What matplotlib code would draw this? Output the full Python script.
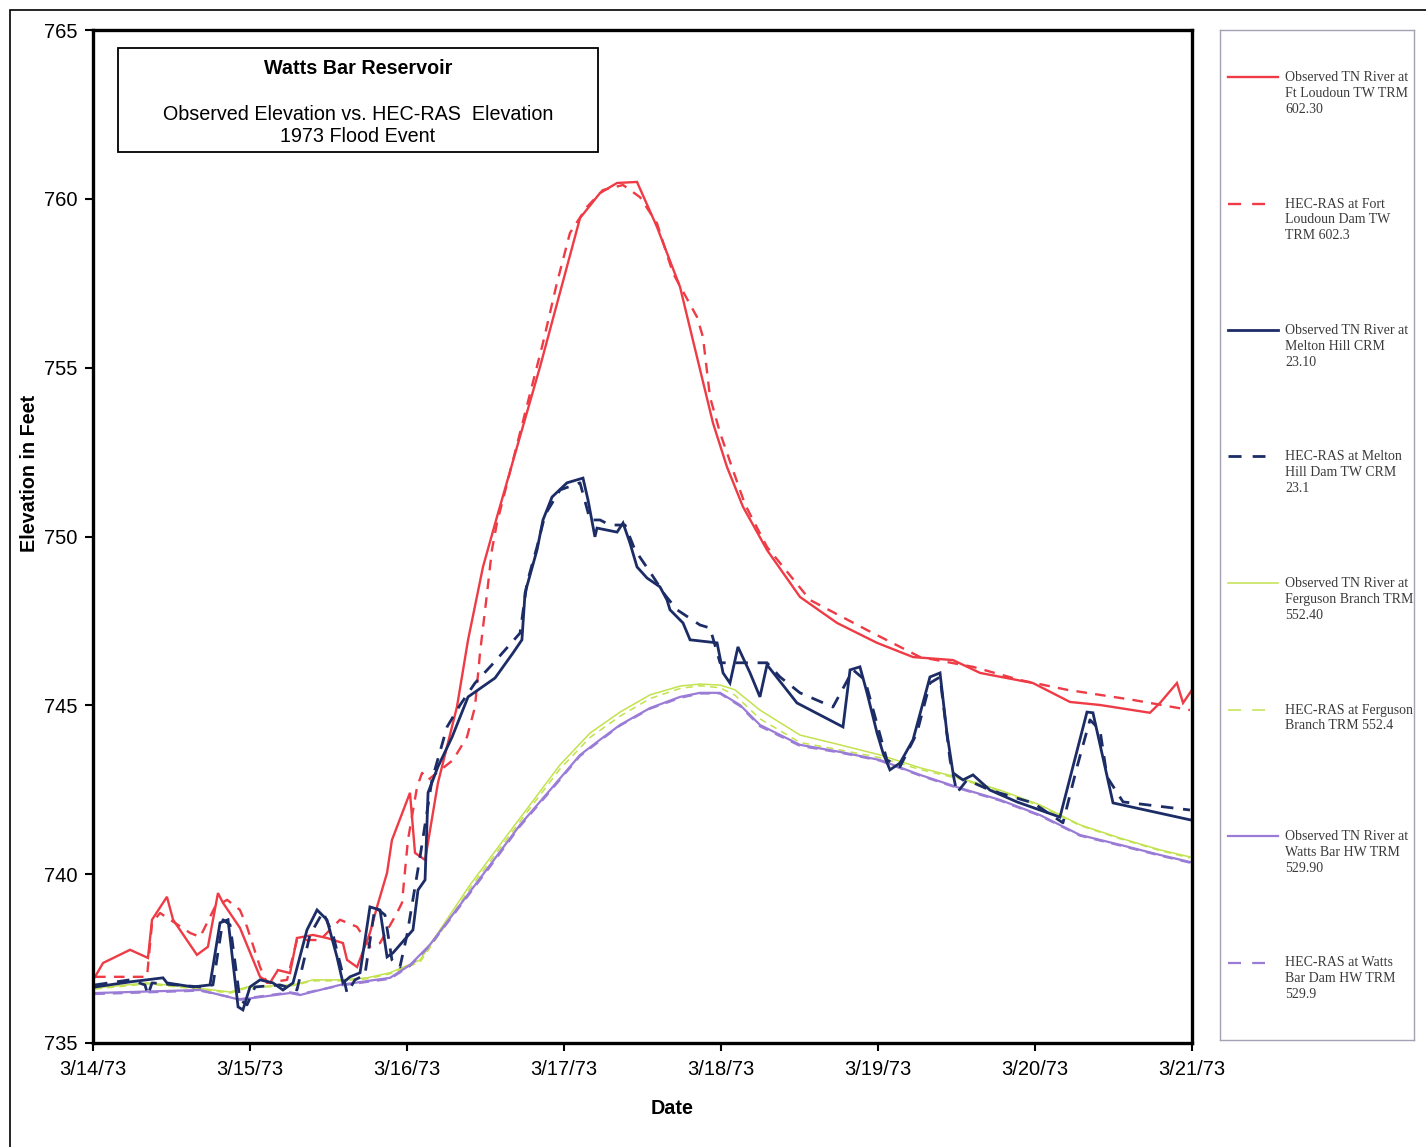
import matplotlib
matplotlib.use("Agg")
import matplotlib.pyplot as plt
from matplotlib.patches import Rectangle

# ---- data: elapsed days since 3/14/73 00:00 and water surface elevation (ft) ----
fl_obs_t = [0.013, 0.064, 0.236, 0.350, 0.376, 0.471, 0.510, 0.662, 0.732, 0.796, 0.828, 0.936,
            1.064, 1.127, 1.178, 1.255, 1.299, 1.401, 1.490, 1.592, 1.618, 1.682, 1.764, 1.809,
            1.873, 1.904, 2.019, 2.051, 2.115, 2.197, 2.318, 2.389, 2.484, 2.573, 2.847, 3.102,
            3.229, 3.338, 3.465, 3.592, 3.739, 3.949, 4.038, 4.140, 4.293, 4.503, 4.739, 4.994,
            5.223, 5.478, 5.650, 5.987, 6.223, 6.414, 6.732, 6.796, 6.904, 6.943, 7.000]
fl_obs_z = [736.96, 737.37, 737.76, 737.52, 738.65, 739.33, 738.65, 737.61, 737.85, 739.44, 739.15, 738.41,
            736.96, 736.78, 737.16, 737.07, 738.11, 738.20, 738.11, 737.96, 737.46, 737.25, 738.26, 739.03,
            740.04, 741.01, 742.41, 740.63, 740.42, 742.70, 744.95, 746.94, 749.10, 750.58, 755.02, 759.43,
            760.17, 760.47, 760.50, 759.17, 757.39, 753.36, 752.06, 750.88, 749.60, 748.21, 747.44, 746.85,
            746.43, 746.34, 745.96, 745.66, 745.10, 745.01, 744.78, 745.07, 745.66, 745.07, 745.46]

fl_ras_t = [0.013, 0.172, 0.344, 0.376, 0.427, 0.618, 0.682, 0.777, 0.854, 0.936, 0.981, 1.064,
            1.108, 1.236, 1.299, 1.446, 1.573, 1.682, 1.764, 1.828, 1.936, 1.968, 2.006, 2.064,
            2.096, 2.134, 2.293, 2.382, 2.433, 2.465, 2.510, 2.541, 2.573, 2.866, 2.955, 3.038,
            3.146, 3.248, 3.376, 3.484, 3.592, 3.694, 3.847, 3.885, 3.930, 3.994, 4.076, 4.153,
            4.293, 4.567, 4.930, 5.268, 5.605, 5.904, 6.204, 6.624, 6.987]
fl_ras_z = [736.96, 736.96, 736.96, 738.56, 738.85, 738.26, 738.14, 739.03, 739.24, 738.94, 738.44, 737.25,
            736.78, 736.87, 738.05, 738.05, 738.65, 738.44, 737.85, 737.96, 738.85, 739.15, 741.01, 742.58,
            743.00, 742.79, 743.38, 744.06, 744.95, 746.55, 748.33, 749.60, 750.40, 755.73, 757.51, 758.99,
            759.76, 760.26, 760.41, 760.05, 759.28, 757.80, 756.50, 755.91, 754.13, 753.07, 751.97, 750.95,
            749.69, 748.12, 747.23, 746.43, 746.14, 745.75, 745.46, 745.16, 744.86]

mh_obs_t = [0.013, 0.236, 0.446, 0.471, 0.637, 0.745, 0.809, 0.860, 0.924, 0.955, 1.000, 1.064,
            1.146, 1.210, 1.274, 1.363, 1.427, 1.490, 1.554, 1.592, 1.637, 1.701, 1.764, 1.828,
            1.873, 1.911, 2.038, 2.070, 2.115, 2.134, 2.197, 2.287, 2.389, 2.561, 2.675, 2.732,
            2.752, 2.828, 2.866, 2.924, 3.019, 3.121, 3.153, 3.197, 3.210, 3.338, 3.376, 3.420,
            3.465, 3.529, 3.611, 3.656, 3.675, 3.758, 3.803, 3.975, 4.013, 4.057, 4.108, 4.185,
            4.248, 4.293, 4.484, 4.777, 4.822, 4.885, 4.930, 4.994, 5.032, 5.076, 5.140, 5.223,
            5.331, 5.395, 5.439, 5.478, 5.541, 5.605, 5.713, 5.885, 6.159, 6.331, 6.369, 6.497, 6.987]
mh_obs_z = [736.66, 736.81, 736.93, 736.78, 736.66, 736.72, 738.56, 738.65, 736.07, 735.98, 736.66, 736.87,
            736.78, 736.57, 736.78, 738.35, 738.94, 738.65, 737.55, 736.78, 736.96, 737.08, 739.03, 738.94,
            737.55, 737.67, 738.35, 739.53, 739.83, 742.41, 743.18, 744.06, 745.25, 745.81, 746.55, 746.94,
            748.33, 749.60, 750.49, 751.17, 751.59, 751.73, 751.08, 749.99, 750.25, 750.13, 750.40, 749.81,
            749.10, 748.77, 748.51, 748.12, 747.83, 747.44, 746.94, 746.85, 745.96, 745.66, 746.73, 745.96,
            745.25, 746.20, 745.07, 744.36, 746.05, 746.14, 745.37, 744.18, 743.59, 743.09, 743.29, 743.98,
            745.84, 745.96, 744.18, 743.00, 742.79, 742.94, 742.49, 742.14, 741.69, 744.80, 744.78, 742.11, 741.61]

mh_ras_t = [0.013, 0.236, 0.331, 0.350, 0.376, 0.682, 0.764, 0.828, 0.873, 0.936, 0.981, 1.032,
            1.191, 1.299, 1.382, 1.465, 1.529, 1.592, 1.618, 1.669, 1.732, 1.796, 1.860, 1.904,
            1.955, 2.000, 2.083, 2.159, 2.255, 2.338, 2.433, 2.541, 2.720, 2.764, 2.828, 2.879,
            2.975, 3.102, 3.166, 3.229, 3.293, 3.389, 3.452, 3.548, 3.643, 3.720, 3.866, 3.930,
            3.994, 4.076, 4.293, 4.376, 4.503, 4.713, 4.841, 4.917, 5.057, 5.140, 5.248, 5.331,
            5.395, 5.459, 5.503, 5.567, 5.713, 5.987, 6.178, 6.268, 6.350, 6.414, 6.459, 6.561, 6.987]
mh_ras_z = [736.72, 736.87, 736.72, 736.42, 736.78, 736.66, 736.72, 738.65, 738.50, 736.28, 736.13, 736.66,
            736.72, 736.57, 738.20, 738.88, 738.20, 737.02, 736.48, 736.87, 737.02, 739.03, 738.79, 737.46,
            737.25, 738.20, 740.51, 742.79, 744.36, 745.01, 745.66, 746.20, 747.14, 748.62, 749.69, 750.64,
            751.38, 751.59, 750.49, 750.49, 750.34, 750.34, 749.60, 748.95, 748.27, 747.83, 747.38, 747.29,
            746.26, 746.26, 746.26, 745.84, 745.37, 744.95, 746.05, 745.75, 743.38, 743.18, 744.18, 745.66,
            745.84, 743.38, 742.41, 742.79, 742.49, 742.11, 741.52, 743.18, 744.57, 744.27, 742.88, 742.14, 741.90]

fb_t = [0.013, 0.344, 0.662, 0.873, 0.981, 1.274, 1.401, 1.573, 1.745, 1.892, 2.083, 2.210,
        2.401, 2.592, 2.783, 2.975, 3.166, 3.357, 3.548, 3.739, 3.866, 3.994, 4.089, 4.248,
        4.503, 4.758, 5.013, 5.268, 5.522, 5.777, 6.032, 6.287, 6.541, 6.796, 6.987]
fb_obs_z = [736.63, 736.78, 736.63, 736.51, 736.66, 736.72, 736.87, 736.87, 736.93, 737.08, 737.46, 738.35,
            739.68, 740.87, 742.05, 743.24, 744.18, 744.80, 745.31, 745.57, 745.63, 745.60, 745.46, 744.86,
            744.12, 743.83, 743.53, 743.15, 742.85, 742.49, 742.05, 741.46, 741.07, 740.72, 740.51]
fb_ras_z = [736.60, 736.75, 736.60, 736.48, 736.63, 736.70, 736.84, 736.84, 736.90, 737.05, 737.40, 738.25,
            739.58, 740.77, 741.95, 743.12, 744.05, 744.68, 745.20, 745.50, 745.58, 745.52, 745.30, 744.60,
            743.90, 743.68, 743.45, 743.10, 742.82, 742.45, 742.02, 741.44, 741.05, 740.70, 740.48]

wb_t = [0.013, 0.682, 0.936, 1.255, 1.318, 1.573, 1.892, 2.019, 2.146, 2.338, 2.529, 2.720,
        2.911, 3.102, 3.229, 3.357, 3.548, 3.739, 3.866, 3.994, 4.121, 4.248, 4.503, 4.758,
        5.013, 5.268, 5.522, 5.777, 6.032, 6.287, 6.541, 6.796, 6.987]
wb_obs_z = [736.48, 736.57, 736.28, 736.48, 736.42, 736.72, 736.93, 737.31, 737.91, 739.09, 740.27, 741.46,
            742.49, 743.53, 743.98, 744.42, 744.92, 745.25, 745.37, 745.37, 745.01, 744.42, 743.83, 743.62,
            743.38, 742.94, 742.55, 742.20, 741.75, 741.16, 740.87, 740.57, 740.36]
wb_ras_z = [736.45, 736.55, 736.30, 736.50, 736.45, 736.70, 736.90, 737.28, 737.88, 739.05, 740.22, 741.42,
            742.45, 743.50, 743.95, 744.40, 744.90, 745.22, 745.35, 745.35, 744.98, 744.38, 743.80, 743.60,
            743.36, 742.92, 742.53, 742.18, 741.73, 741.14, 740.85, 740.55, 740.34]

date_labels = ["3/14/73", "3/15/73", "3/16/73", "3/17/73", "3/18/73", "3/19/73", "3/20/73", "3/21/73"]
y_ticks = [735, 740, 745, 750, 755, 760, 765]

labels = [
    "Observed TN River at\nFt Loudoun TW TRM\n602.30",
    "HEC-RAS at Fort\nLoudoun Dam TW\nTRM 602.3",
    "Observed TN River at\nMelton Hill CRM\n23.10",
    "HEC-RAS at Melton\nHill Dam TW CRM\n23.1",
    "Observed TN River at\nFerguson Branch TRM\n552.40",
    "HEC-RAS at Ferguson\nBranch TRM 552.4",
    "Observed TN River at\nWatts Bar HW TRM\n529.90",
    "HEC-RAS at Watts\nBar Dam HW TRM\n529.9",
]

RED, NAVY, LIME, PURPLE = "#EE3B45", "#1C2C66", "#C2E24E", "#9A7BD6"
DASH = (4.5, 3.5)
series = [
    (fl_obs_t, fl_obs_z, RED, 1.7, None),
    (fl_ras_t, fl_ras_z, RED, 1.7, DASH),
    (mh_obs_t, mh_obs_z, NAVY, 2.0, None),
    (mh_ras_t, mh_ras_z, NAVY, 2.0, DASH),
    (fb_t, fb_obs_z, LIME, 1.1, None),
    (fb_t, fb_ras_z, LIME, 1.1, DASH),
    (wb_t, wb_obs_z, PURPLE, 1.6, None),
    (wb_t, wb_ras_z, PURPLE, 1.6, DASH),
]
draw_order = [4, 5, 6, 7, 0, 1, 2, 3]

plt.rcParams["font.family"] = ["Liberation Sans", "DejaVu Sans"]
W, H = 1426, 1147
fig = plt.figure(figsize=(W / 100, H / 100), dpi=100)
fig.patch.set_facecolor("white")

ax = fig.add_axes([93 / W, 1 - 1043 / H, 1099 / W, 1013 / H])
for i in draw_order:
    t, z, c, lw, dash = series[i]
    kw = dict(color=c, lw=lw, solid_joinstyle="miter")
    if dash is not None:
        kw.update(linestyle=(0, dash))
    ax.plot(t, z, **kw)

ax.set_xlim(0, 7)
ax.set_ylim(735, 765)
ax.set_xticks(range(len(date_labels)))
ax.set_xticklabels(date_labels)
ax.set_yticks(y_ticks)
ax.tick_params(axis="both", direction="out", length=6, width=1.5, labelsize=14.5, colors="black")
ax.tick_params(axis="x", pad=6)
ax.tick_params(axis="y", pad=5)
for s in ax.spines.values():
    s.set_linewidth(2.4)
    s.set_color("black")

fig.text(30 / W, 1 - 473 / H, "Elevation in Feet", rotation=90, ha="center", va="center",
         fontsize=14.2, fontweight="bold")
fig.text(672 / W, 1 - 1108 / H, "Date", ha="center", va="center", fontsize=14.2, fontweight="bold")

# title box inside the plot area
fig.add_artist(Rectangle((118 / W, 1 - 152 / H), 480 / W, 104 / H, transform=fig.transFigure,
                         fill=True, facecolor="white", edgecolor="black", lw=1.3, zorder=5))
fig.text(358 / W, 1 - 69 / H, "Watts Bar Reservoir", ha="center", va="center",
         fontsize=14.2, fontweight="bold", zorder=6)
fig.text(358 / W, 1 - 114 / H, "Observed Elevation vs. HEC-RAS  Elevation", ha="center", va="center",
         fontsize=14.2, zorder=6)
fig.text(358 / W, 1 - 137 / H, "1973 Flood Event", ha="center", va="center",
         fontsize=14.2, zorder=6)

# legend panel on the right
lax = fig.add_axes([1220 / W, 1 - 1040 / H, 194 / W, 1010 / H])
lax.set_xlim(0, 1)
lax.set_ylim(0, 1)
lax.set_xticks([])
lax.set_yticks([])
for s in lax.spines.values():
    s.set_color("#a2a2b4")
    s.set_linewidth(1.0)
for i, (t, z, c, lw, dash) in enumerate(series):
    yf = 1 - (77 + 126.5 * i - 30) / 1010
    kw = dict(color=c, lw=lw)
    x_end = 0.299
    if dash is not None:
        seg = 9.4 / lw
        kw.update(linestyle=(0, (seg, 8.0 / lw)))
        x_end = 0.232
    lax.plot([0.041, x_end], [yf, yf], **kw)
    lax.text(0.335, yf + 6 / 1010, labels[i], ha="left", va="top", fontsize=10,
             family=["Liberation Serif", "DejaVu Serif"], color="#3a3a3a", linespacing=1.28)

# outer frame of the page
fig.add_artist(Rectangle((10 / W, -0.05), 1.2, 1.05 - 10 / H, transform=fig.transFigure,
                         fill=False, edgecolor="black", lw=1.2))

fig.savefig("out.png", dpi=100)
